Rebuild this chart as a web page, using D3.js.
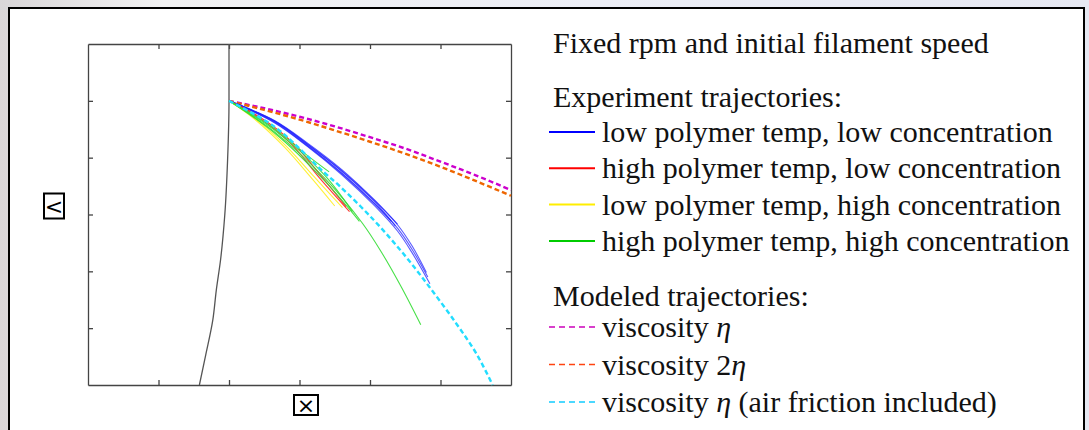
<!DOCTYPE html>
<html>
<head>
<meta charset="utf-8">
<script src="https://cdn.jsdelivr.net/npm/d3@7"></script>
<style>
  body { margin: 0; overflow: hidden; background: #e6e7ef; }
  text { font-family: "Liberation Serif", "Times New Roman", serif; }
</style>
</head>
<body>
<div id="vis"></div>
<script>
// axis ticks (no labels in the original)
var xTicks = [-1, 0, 1, 2, 3];
var yTicks = [0, -1, -2, -3, -4];

// spinneret wall
var wall = [[0, 1], [0, 0], [-0.02, -1.04], [-0.06, -2.01], [-0.12, -2.8], [-0.18, -3.33], [-0.23, -3.86], [-0.33, -4.47], [-0.42, -5]];

// modeled trajectories
var viscEta = [[0, 0], [0.5, -0.13], [1, -0.28], [1.5, -0.45], [2, -0.64], [2.5, -0.84], [3, -1.07], [3.5, -1.31], [4, -1.57]];
var visc2Eta = [[0, 0], [0.5, -0.16], [1, -0.33], [1.5, -0.52], [2, -0.72], [2.5, -0.93], [3, -1.16], [3.5, -1.41], [4, -1.67]];
var viscAir = [[0, 0], [0.65, -0.46], [1.35, -1.26], [1.57, -1.5], [2.04, -2.08], [2.46, -2.67], [2.84, -3.27], [3.23, -3.93], [3.51, -4.45], [3.74, -5.0]];

// experiment trajectories
var lowTempLowConc = [
    [[0, 0], [0.65, -0.35], [1.11, -0.74], [1.6, -1.21], [2.06, -1.74], [2.39, -2.17]],
    [[0, 0], [0.65, -0.38], [1.11, -0.79], [1.6, -1.28], [2.06, -1.81], [2.3, -2.12]],
    [[0, 0], [0.65, -0.36], [1.11, -0.76], [1.6, -1.24], [2.06, -1.77], [2.36, -2.2]],
    [[0, 0], [0.65, -0.36], [1.11, -0.76], [1.6, -1.23], [2.06, -1.75], [2.39, -2.18], [2.6, -2.56], [2.8, -3.02]],
    [[0, 0], [0.65, -0.37], [1.11, -0.78], [1.6, -1.27], [2.06, -1.8], [2.39, -2.24], [2.6, -2.62], [2.82, -3.1]],
    [[0, 0], [0.65, -0.39], [1.11, -0.8], [1.6, -1.3], [2.06, -1.84], [2.39, -2.29], [2.6, -2.68], [2.85, -3.22]]
];
var highTempLowConc = [
    [[0, 0], [0.43, -0.3], [0.89, -0.77], [1.28, -1.35], [1.71, -1.95]],
    [[0, 0], [0.43, -0.28], [0.89, -0.72], [1.28, -1.28], [1.66, -1.86]]
];
var lowTempHighConc = [
    [[0, 0], [0.36, -0.3], [0.79, -0.77], [1.21, -1.34], [1.61, -1.88]],
    [[0, 0], [0.36, -0.32], [0.79, -0.82], [1.15, -1.33], [1.5, -1.85]]
];
var highTempHighConc = [
    [[0, 0], [0.65, -0.55], [1.35, -1.35], [1.89, -2.15], [2.18, -2.7], [2.45, -3.29], [2.72, -3.94]],
    [[0, 0], [0.65, -0.52], [1.35, -1.3], [1.75, -1.95]],
    [[0, 0], [0.6, -0.45], [1.1, -0.95], [1.42, -1.25]],
    [[0, 0], [0.65, -0.57], [1.35, -1.4], [1.85, -2.12]]
];

var expLabels = ["low polymer temp, low concentration", "high polymer temp, low concentration",
    "low polymer temp, high concentration", "high polymer temp, high concentration"];
var expColors = ["#0000ff", "#ff0000", "#ffee00", "#00cc00"];
var modelLabels = [["viscosity ", "", "\u03b7", ""], ["viscosity ", "2", "\u03b7", ""], ["viscosity ", "", "\u03b7", " (air friction included)"]];
var modelColors = ["#cc00bb", "#ff4411", "#11ccff"];

var width = 1089, height = 430;
var svg = d3.select("#vis").append("svg")
    .attr("width", width)
    .attr("height", height);

// background strip + white panel
var grad = svg.append("defs").append("linearGradient").attr("id", "bg");
grad.append("stop").attr("offset", "0").attr("stop-color", "#d9d6d8");
grad.append("stop").attr("offset", "0.15").attr("stop-color", "#f2f2f3");
grad.append("stop").attr("offset", "0.55").attr("stop-color", "#eceef6");
grad.append("stop").attr("offset", "1").attr("stop-color", "#e6e8f2");
svg.append("rect").attr("width", width).attr("height", height).attr("fill", "url(#bg)");
svg.append("rect")
    .attr("x", 9).attr("y", 8).attr("width", 1075).attr("height", 440)
    .attr("fill", "#fff").attr("stroke", "#000").attr("stroke-width", 2);

var x = d3.scaleLinear().domain([-2, 4]).range([88, 511]);
var y = d3.scaleLinear().domain([1, -5]).range([44, 385]);

var plot = svg.append("g");

function frameAxis(axis, tx, ty) {
    var g = plot.append("g")
        .attr("transform", "translate(" + tx + "," + ty + ")")
        .call(axis);
    g.selectAll("text").remove();
    g.select(".domain").attr("stroke", "#444").attr("stroke-width", 1.3);
    g.selectAll(".tick line").attr("stroke", "#444").attr("stroke-width", 1.3);
}
frameAxis(d3.axisBottom(x).tickValues(xTicks).tickSizeInner(-5).tickSizeOuter(0), 0, 385);
frameAxis(d3.axisTop(x).tickValues(xTicks).tickSizeInner(-5).tickSizeOuter(0), 0, 44);
frameAxis(d3.axisLeft(y).tickValues(yTicks).tickSizeInner(-5).tickSizeOuter(0), 88, 0);
frameAxis(d3.axisRight(y).tickValues(yTicks).tickSizeInner(-5).tickSizeOuter(0), 511, 0);

var line = d3.line()
    .x(function (d) { return x(d[0]); })
    .y(function (d) { return y(d[1]); })
    .curve(d3.curveCatmullRom.alpha(0.5));

var wallLine = d3.line()
    .x(function (d) { return x(d[0]); })
    .y(function (d) { return y(d[1]); })
    .curve(d3.curveMonotoneY);

plot.append("path").attr("d", wallLine(wall))
    .attr("fill", "none").attr("stroke", "#555").attr("stroke-width", 1.3);

// modeled, dashed
[viscEta, visc2Eta].forEach(function (pts, i) {
    plot.append("path").attr("d", line(pts))
        .attr("fill", "none")
        .attr("stroke", i == 0 ? "#cc00cc" : "#ee6600")
        .attr("stroke-width", 2.4)
        .attr("stroke-dasharray", "5,3");
});

[lowTempLowConc, highTempLowConc, lowTempHighConc, highTempHighConc].forEach(function (runs, i) {
    plot.selectAll(null)
        .data(runs)
        .enter().append("path")
        .attr("d", line)
        .attr("fill", "none")
        .attr("stroke", ["#2222ff", "#ff2222", "#ffee22", "#33dd33"][i])
        .attr("stroke-opacity", i == 0 ? 0.75 : 0.9)
        .attr("stroke-width", 1.1);
});

plot.append("path").attr("d", line(viscAir))
    .attr("fill", "none").attr("stroke", "#22ddff")
    .attr("stroke-width", 2.4).attr("stroke-dasharray", "5,3");

// axis labels (symbol boxes)
function boxLabel(cx, cy, w, h, s) {
    svg.append("rect").attr("x", cx - w / 2).attr("y", cy - h / 2)
        .attr("width", w).attr("height", h)
        .attr("fill", "none").attr("stroke", "#000").attr("stroke-width", 2);
    svg.append("text").attr("x", cx).attr("y", cy + 8)
        .attr("text-anchor", "middle")
        .style("font-family", "DejaVu Sans")
        .style("font-size", "22px")
        .text(s);
}
boxLabel(306, 405, 24, 20, "\u00d7");
boxLabel(54, 206, 20, 25, "<");

// legend
var leg = svg.append("g").style("font-size", "30px").attr("fill", "#111");
leg.append("text").attr("x", 553).attr("y", 53).text("Fixed rpm and initial filament speed");
leg.append("text").attr("x", 553).attr("y", 107).text("Experiment trajectories:");
expLabels.forEach(function (t, i) {
    var yy = 142 + i * 36.3;
    leg.append("line").attr("x1", 549).attr("x2", 595).attr("y1", yy - 10).attr("y2", yy - 10)
        .attr("stroke", expColors[i]).attr("stroke-width", 2);
    leg.append("text").attr("x", 602).attr("y", yy).text(t);
});
leg.append("text").attr("x", 553).attr("y", 306).text("Modeled trajectories:");
modelLabels.forEach(function (parts, i) {
    var yy = 337 + i * 37.5;
    leg.append("line").attr("x1", 549).attr("x2", 595).attr("y1", yy - 10).attr("y2", yy - 10)
        .attr("stroke", modelColors[i]).attr("stroke-width", 1.6)
        .attr("stroke-dasharray", "6,4");
    var t = leg.append("text").attr("x", 602).attr("y", yy);
    t.append("tspan").text(parts[0]);
    if (parts[1]) t.append("tspan").text(parts[1]);
    t.append("tspan").style("font-style", "italic").text(parts[2]);
    if (parts[3]) t.append("tspan").text(parts[3]);
});
</script>
</body>
</html>
